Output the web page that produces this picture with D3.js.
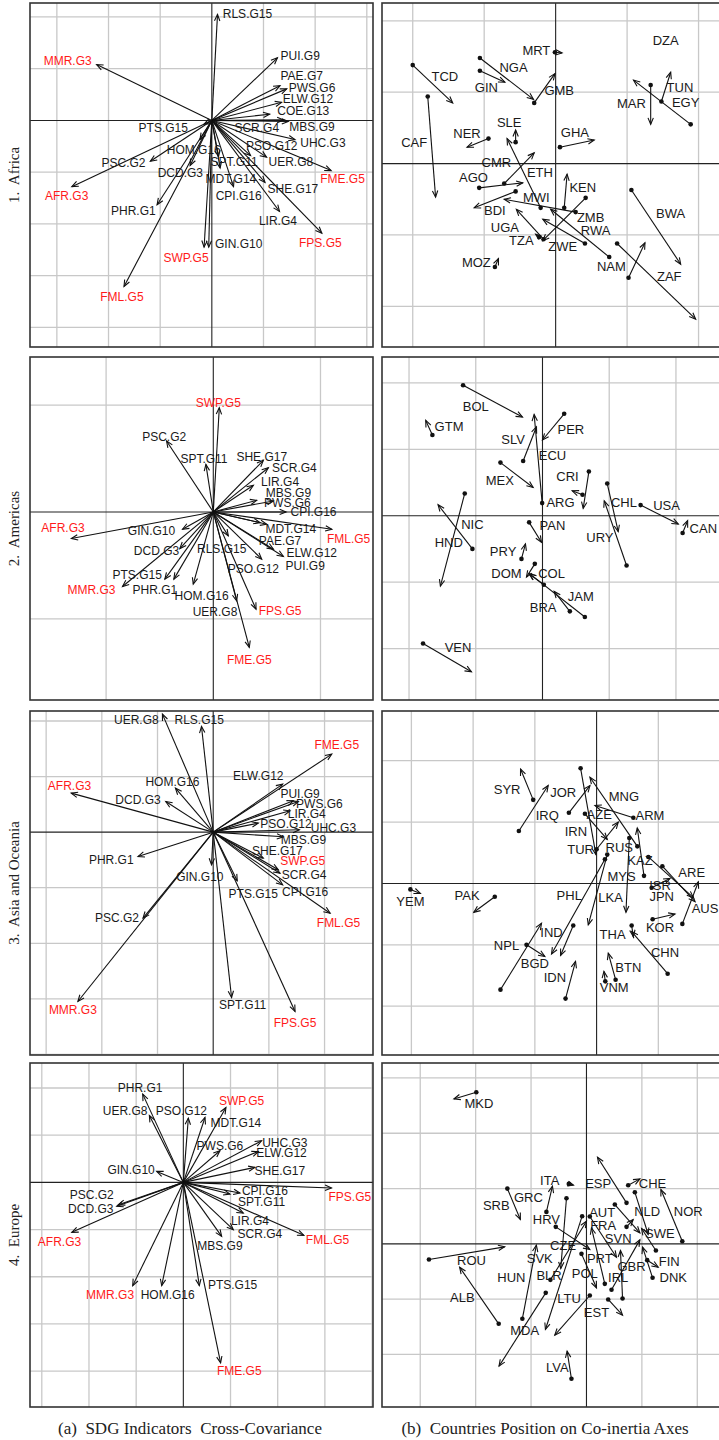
<!DOCTYPE html>
<html><head><meta charset="utf-8">
<script src="https://cdn.jsdelivr.net/npm/d3@7"></script>
<style>body{margin:0;background:#fff}svg{display:block}</style>
</head><body>
<script>
// ================= DATA =================
const regions = ["1.  Africa", "2.  Americas", "3.  Asia and Oceania", "4.  Europe"];
const captions = ["(a)  SDG Indicators  Cross-Covariance", "(b)  Countries Position on Co-inertia Axes"];
const highlighted = ["AFR.G3", "MMR.G3", "SWP.G5", "FML.G5", "FME.G5", "FPS.G5"];

// Indicator cross-covariance arrows: [indicator, x, y, labelX, labelY]
const africaIndicators = [
  ["RLS.G15", 0.11, 2.05, 0.69, 2.05], ["MMR.G3", -2.23, 1.08, -2.79, 1.15],
  ["PUI.G9", 1.27, 1.21, 1.71, 1.24], ["PAE.G7", 1.32, 0.67, 1.74, 0.86],
  ["PWS.G6", 1.45, 0.61, 1.94, 0.63], ["ELW.G12", 1.35, 0.35, 1.86, 0.41],
  ["COE.G13", 1.12, 0.12, 1.77, 0.19], ["MBS.G9", 1.48, -0.02, 1.94, -0.13],
  ["SCR.G4", 1.39, 0.01, 0.87, -0.15], ["UHC.G3", 1.61, -0.37, 2.15, -0.43],
  ["PSO.G12", 0.75, -0.68, 1.16, -0.50], ["UER.G8", 1.06, -0.71, 1.53, -0.81],
  ["FME.G5", 2.31, -0.97, 2.53, -1.14], ["SHE.G17", 1.03, -1.20, 1.57, -1.32],
  ["LIR.G4", 1.31, -1.76, 1.28, -1.95], ["FPS.G5", 2.13, -2.18, 2.10, -2.36],
  ["SPT.G11", 0.13, -0.70, 0.43, -0.81], ["MDT.G14", 0.16, -0.92, 0.37, -1.14],
  ["CPI.G16", 0.42, -1.28, 0.52, -1.46], ["GIN.G10", -0.06, -2.45, 0.52, -2.39],
  ["SWP.G5", -0.15, -2.45, -0.50, -2.66], ["FML.G5", -1.70, -3.21, -1.74, -3.41],
  ["PHR.G1", -1.06, -1.63, -1.52, -1.75], ["DCD.G3", -0.42, -0.87, -0.61, -1.01],
  ["HOM.G16", -0.23, -0.37, -0.35, -0.58], ["PSC.G2", -1.19, -0.79, -1.71, -0.83],
  ["AFR.G3", -2.71, -1.28, -2.81, -1.46], ["PTS.G15", -0.15, -0.07, -0.94, -0.15]
];
const americasIndicators = [
  ["SWP.G5", 0.056, 0.975, 0.047, 1.020], ["PSC.G2", -0.436, 0.664, -0.458, 0.704],
  ["SPT.G11", -0.069, 0.445, -0.087, 0.498], ["SHE.G17", 0.467, 0.483, 0.452, 0.517],
  ["SCR.G4", 0.514, 0.414, 0.757, 0.414], ["LIR.G4", 0.374, 0.249, 0.623, 0.280],
  ["MBS.G9", 0.405, 0.109, 0.701, 0.174], ["PWS.G6", 0.561, 0.103, 0.692, 0.081],
  ["CPI.G16", 0.679, 0.000, 0.935, 0.000], ["MDT.G14", 0.436, -0.100, 0.723, -0.156],
  ["FML.G5", 1.106, -0.162, 1.262, -0.249], ["PAE.G7", 0.498, -0.115, 0.623, -0.271],
  ["ELW.G12", 0.561, -0.349, 0.919, -0.380], ["PUI.G9", 0.654, -0.417, 0.857, -0.505],
  ["PSO.G12", 0.452, -0.442, 0.374, -0.530], ["FPS.G5", 0.399, -0.910, 0.623, -0.931],
  ["FME.G5", 0.336, -1.268, 0.336, -1.383], ["UER.G8", 0.218, -0.832, 0.016, -0.941],
  ["HOM.G16", -0.187, -0.676, -0.109, -0.791], ["RLS.G15", 0.140, -0.224, 0.078, -0.343],
  ["PHR.G1", -0.368, -0.629, -0.545, -0.729], ["PTS.G15", -0.452, -0.629, -0.710, -0.589],
  ["MMR.G3", -0.847, -0.698, -1.137, -0.729], ["DCD.G3", -0.312, -0.343, -0.530, -0.364],
  ["GIN.G10", -0.287, -0.162, -0.576, -0.178], ["AFR.G3", -1.324, -0.249, -1.402, -0.150]
];
const asiaIndicators = [
  ["UER.G8", -0.912, 2.124, -1.380, 2.022], ["RLS.G15", -0.210, 1.902, -0.252, 2.022],
  ["FME.G5", 2.130, 1.404, 2.219, 1.560], ["ELW.G12", 1.248, 0.864, 0.810, 1.002],
  ["HOM.G16", -0.678, 0.792, -0.732, 0.900], ["AFR.G3", -2.550, 0.702, -2.580, 0.822],
  ["DCD.G3", -0.852, 0.552, -1.350, 0.582], ["PUI.G9", 1.440, 0.564, 1.560, 0.684],
  ["PWS.G6", 1.530, 0.552, 1.908, 0.504], ["LIR.G4", 1.380, 0.384, 1.680, 0.324],
  ["PSO.G12", 0.810, 0.162, 1.308, 0.144], ["UHC.G3", 1.548, 0.042, 2.160, 0.072],
  ["MBS.G9", 1.260, -0.084, 1.620, -0.138], ["SHE.G17", 0.900, -0.468, 1.152, -0.336],
  ["SWP.G5", 1.170, -0.678, 1.608, -0.528], ["SCR.G4", 1.200, -0.738, 1.632, -0.768],
  ["CPI.G16", 1.248, -0.948, 1.650, -1.080], ["FML.G5", 2.100, -1.458, 2.250, -1.638],
  ["PHR.G1", -1.350, -0.438, -1.830, -0.498], ["GIN.G10", -0.030, -0.588, -0.240, -0.816],
  ["PTS.G15", 0.432, -0.876, 0.720, -1.116], ["PSC.G2", -1.260, -1.548, -1.728, -1.548],
  ["MMR.G3", -2.430, -3.047, -2.520, -3.197], ["SPT.G11", 0.330, -2.975, 0.528, -3.119],
  ["FPS.G5", 1.470, -3.227, 1.470, -3.437]
];
const europeIndicators = [
  ["PHR.G1", -0.861, 1.870, -0.917, 1.997], ["UER.G8", -0.720, 1.419, -1.235, 1.503],
  ["PSO.G12", 0.106, 1.362, -0.042, 1.503], ["SWP.G5", 0.903, 1.588, 1.235, 1.715],
  ["MDT.G14", 0.459, 1.376, 1.115, 1.256], ["PWS.G6", 0.776, 0.670, 0.776, 0.762],
  ["UHC.G3", 1.658, 0.882, 2.152, 0.833], ["ELW.G12", 1.588, 0.656, 2.082, 0.621],
  ["SHE.G17", 1.517, 0.318, 2.046, 0.233], ["GIN.G10", -0.565, 0.233, -1.108, 0.254],
  ["FPS.G5", 3.140, -0.120, 3.529, -0.318], ["CPI.G16", 1.200, -0.226, 1.729, -0.176],
  ["SPT.G11", 0.988, -0.247, 1.659, -0.416], ["LIR.G4", 1.270, -0.649, 1.411, -0.811],
  ["SCR.G4", 1.059, -1.002, 1.623, -1.094], ["FML.G5", 2.555, -1.122, 3.056, -1.214],
  ["MBS.G9", 0.812, -1.143, 0.776, -1.355], ["PTS.G15", 0.339, -2.188, 1.044, -2.181],
  ["FME.G5", 0.790, -3.825, 1.186, -3.987], ["HOM.G16", -0.459, -2.188, -0.332, -2.392],
  ["MMR.G3", -1.073, -2.188, -1.553, -2.392], ["AFR.G3", -2.364, -1.059, -2.625, -1.263],
  ["DCD.G3", -1.411, -0.508, -1.962, -0.558], ["PSC.G2", -1.376, -0.473, -1.941, -0.275]
];

// Country positions on co-inertia axes: [country, x0, y0, x1, y1, labelX, labelY]
const africaCountries = [
  ["MRT", -0.01, 1.56, 0.09, 1.55, -0.27, 1.58], ["DZA", null, null, null, null, 1.54, 1.72],
  ["NGA", -1.06, 1.48, -0.31, 0.90, -0.59, 1.35], ["GIN", -1.06, 1.30, -0.71, 1.14, -0.97, 1.07],
  ["GMB", -0.30, 0.85, -0.01, 1.26, 0.05, 1.02], ["TCD", -2.00, 1.38, -1.44, 0.85, -1.55, 1.22],
  ["CAF", -1.79, 0.94, -1.68, -0.47, -1.98, 0.30], ["NER", -0.94, 0.35, -1.24, 0.23, -1.24, 0.42],
  ["SLE", -0.56, 0.30, -0.56, 0.47, -0.65, 0.57], ["GHA", 0.06, 0.23, 0.54, 0.33, 0.27, 0.44],
  ["CMR", -0.72, -0.28, -0.30, 0.15, -0.83, 0.01], ["AGO", -1.07, -0.34, -0.46, -0.27, -1.15, -0.19],
  ["ETH", -0.21, -0.62, -0.68, 0.35, -0.22, -0.13], ["MWI", 0.28, -0.68, -0.72, -0.50, -0.27, -0.47],
  ["KEN", 0.12, -0.62, 0.16, -0.15, 0.38, -0.33], ["BDI", -0.56, -0.39, -1.14, -0.62, -0.85, -0.66],
  ["ZMB", 0.42, -0.48, -0.18, -1.08, 0.49, -0.75], ["ZWE", 0.41, -1.12, -0.18, -0.78, 0.10, -1.16],
  ["RWA", 0.75, -1.31, -0.07, -0.64, 0.56, -0.94], ["UGA", -0.17, -1.06, -0.55, -0.64, -0.71, -0.89],
  ["TZA", -0.23, -1.03, -0.28, -0.99, -0.48, -1.08], ["MOZ", -0.85, -1.45, -0.80, -1.33, -1.11, -1.38],
  ["NAM", 1.02, -1.60, 1.25, -1.11, 0.78, -1.44], ["ZAF", 0.86, -1.12, 1.96, -2.18, 1.59, -1.58],
  ["BWA", 1.06, -0.37, 1.75, -1.41, 1.61, -0.70], ["MAR", 1.33, 1.10, 1.33, 0.55, 1.06, 0.84],
  ["TUN", 1.48, 0.87, 1.61, 1.28, 1.74, 1.06], ["EGY", 1.89, 0.55, 1.09, 1.17, 1.82, 0.85]
];
const americasCountries = [
  ["BOL", -1.19, 1.965, -0.30, 1.485, -1.00, 1.65], ["GTM", -1.65, 1.215, -1.75, 1.435, -1.40, 1.35],
  ["PER", 0.325, 1.535, 0.0, 1.14, 0.425, 1.30], ["SLV", -0.29, 0.825, -0.09, 1.34, -0.44, 1.15],
  ["ECU", -0.005, 0.19, -0.125, 1.525, 0.15, 0.91], ["ARG", 0.60, 0.315, 0.445, 0.375, 0.27, 0.20],
  ["MEX", -0.63, 0.80, -0.14, 0.425, -0.64, 0.525], ["CRI", 0.695, 0.665, 0.61, 0.11, 0.375, 0.585],
  ["CHL", 0.97, 0.485, 1.135, -0.24, 1.22, 0.20], ["URY", 1.26, -0.75, 0.925, 0.225, 0.86, -0.325],
  ["USA", 1.47, 0.16, 2.035, -0.125, 1.86, 0.16], ["CAN", 2.10, -0.26, 2.175, -0.075, 2.41, -0.19],
  ["NIC", -1.05, -0.50, -1.565, 0.165, -1.05, -0.125], ["HND", -1.165, 0.335, -1.53, -1.06, -1.405, -0.40],
  ["PAN", -0.20, -0.10, -0.015, -0.40, 0.15, -0.14], ["PRY", -0.315, -0.65, -0.255, -0.425, -0.59, -0.54],
  ["COL", -0.115, -0.725, -0.24, -0.925, 0.135, -0.875], ["DOM", 0.02, -1.04, -0.20, -0.875, -0.54, -0.875],
  ["JAM", 0.635, -1.525, -0.19, -0.875, 0.575, -1.215], ["BRA", 0.41, -1.44, 0.175, -1.14, 0.01, -1.375],
  ["VEN", -1.79, -1.925, -1.065, -2.35, -1.265, -1.985]
];
const asiaCountries = [
  ["YEM", -3.016, -0.097, -2.854, -0.162, -3.016, -0.297], ["PAK", -1.649, -0.216, -1.989, -0.470, -2.097, -0.200],
  ["SYR", -1.027, 1.362, -1.232, 1.865, -1.449, 1.524], ["JOR", -1.259, 0.854, -0.784, 1.595, -0.541, 1.476],
  ["IRQ", -0.449, 1.151, -0.108, 1.595, -0.800, 1.108], ["IRN", -0.259, 1.876, -0.011, 0.470, -0.335, 0.849],
  ["MNG", 0.660, 0.605, -0.108, 1.730, 0.443, 1.422], ["AZE", -0.189, 1.135, 0.173, 0.719, 0.043, 1.119],
  ["ARM", 0.595, 1.070, -0.027, 1.270, 0.865, 1.108], ["TUR", 0.0, 0.557, 0.351, 1.000, -0.259, 0.557],
  ["RUS", 0.173, 0.470, -0.135, -0.676, 0.368, 0.578], ["PHL", 0.135, 0.395, -0.730, -1.151, -0.443, -0.189],
  ["LKA", null, null, null, null, 0.227, -0.232], ["MYS", 0.530, 0.741, 0.476, -0.470, 0.405, 0.108],
  ["KAZ", 0.768, 0.124, 0.659, 0.903, 0.703, 0.378], ["ARE", 0.838, 0.432, 1.568, -0.232, 1.541, 0.173],
  ["AUS", 1.389, -0.659, 1.649, 0.027, 1.757, -0.416], ["ISR", 1.065, 0.281, 1.595, -0.297, 1.027, -0.027],
  ["JPN", 0.892, -0.070, 1.189, 0.081, 1.054, -0.216], ["KOR", 0.908, -0.584, 1.270, -0.497, 1.027, -0.719],
  ["THA", 0.568, -0.686, 0.595, -0.865, 0.259, -0.827], ["CHN", 1.151, -1.470, 0.568, -0.784, 1.108, -1.119],
  ["BTN", 0.308, -1.568, 0.189, -1.135, 0.514, -1.368], ["VNM", 0.141, -1.595, 0.119, -1.432, 0.286, -1.692],
  ["IDN", -0.503, -1.876, -0.341, -1.270, -0.676, -1.530], ["IND", -1.557, -1.730, -0.892, -0.649, -0.730, -0.800],
  ["NPL", -1.135, -1.000, -0.838, -1.189, -1.459, -1.011], ["BGD", -0.378, -0.686, -0.584, -1.173, -1.000, -1.311]
];
const europeCountries = [
  ["MKD", -1.988, 2.741, -2.392, 2.620, -1.940, 2.536], ["ITA", -0.319, 1.084, -0.235, 1.060, -0.663, 1.145],
  ["ESP", 0.723, 0.741, 0.199, 1.566, 0.211, 1.084], ["CHE", 0.753, 1.060, 0.964, 1.175, 1.193, 1.084],
  ["NLD", 0.873, 0.934, 1.114, 0.169, 1.096, 0.590], ["NOR", 1.729, 0.048, 1.343, 0.982, 1.837, 0.578],
  ["SWE", 1.253, -0.120, 0.994, 0.277, 1.325, 0.181], ["FIN", 1.096, -0.295, 1.295, -0.422, 1.494, -0.325],
  ["DNK", 1.193, -0.614, 1.012, -0.060, 1.566, -0.614], ["AUT", 0.512, 0.711, 0.964, 0.199, 0.283, 0.560],
  ["FRA", 0.060, 0.494, 0.542, -0.241, 0.301, 0.331], ["SVN", 0.723, 0.307, 0.843, 0.440, 0.572, 0.090],
  ["GBR", 0.452, -0.831, 0.964, 0.072, 0.813, -0.404], ["IRL", 0.651, -0.988, 0.614, -0.120, 0.572, -0.614],
  ["PRT", 0.331, -0.723, 0.090, 0.289, 0.241, -0.271], ["POL", -0.090, -0.181, 0.181, -0.795, -0.030, -0.542],
  ["EST", 0.392, -1.006, 0.651, -1.289, 0.181, -1.247], ["LTU", 0.060, -0.934, -0.572, -1.651, -0.313, -0.988],
  ["LVA", -0.271, -2.440, -0.349, -1.940, -0.524, -2.241], ["MDA", -0.735, -0.886, -1.578, -2.211, -1.114, -1.566],
  ["HUN", -1.157, -1.355, -0.904, -0.024, -1.355, -0.614], ["ALB", -1.584, -1.446, -2.289, -0.422, -2.241, -0.976],
  ["ROU", -2.843, -0.283, -1.476, -0.054, -2.075, -0.295], ["SRB", -1.428, 0.999, -1.193, 0.440, -1.627, 0.699],
  ["GRC", -0.723, 0.578, -0.614, 1.042, -1.048, 0.831], ["HRV", -0.554, 0.307, 0.060, -0.102, -0.723, 0.440],
  ["CZE", -0.361, 0.825, -0.464, -0.446, -0.422, -0.024], ["BLR", -0.651, -0.651, 0.0, 0.410, -0.675, -0.566],
  ["SVK", -0.078, 0.500, -0.741, -1.548, -0.843, -0.271]
];

// Axis limits (grid step = 1 unit)
const africaIndX = [-3.52, 3.12], africaIndY = [-4.38, 2.27];
const americasIndX = [-1.71, 1.49], americasIndY = [-1.76, 1.45];
const asiaIndX = [-3.29, 2.87], asiaIndY = [-4.01, 2.18];
const europeIndX = [-3.25, 4.02], europeIndY = [-4.76, 2.53];
const africaCtyX = [-2.43, 2.37], africaCtyY = [-2.57, 2.25];
const americasCtyX = [-2.405, 2.735], americasCtyY = [-2.775, 2.39];
const asiaCtyX = [-3.476, 2.08], asiaCtyY = [-2.795, 2.81];
const europeCtyX = [-3.69, 2.50], europeCtyY = [-2.95, 3.27];

// ================= DRAWING =================
const W = 719, H = 1440;
const svg = d3.select("body").append("svg").attr("width", W).attr("height", H)
  .style("font-family", "'Liberation Sans', Arial, sans-serif");

const colX = [[30, 373], [382, 725]];
const rowY = [[3, 347], [357, 700], [711, 1055], [1063, 1407]];

const rows = [
  {ind: africaIndicators, ix: africaIndX, iy: africaIndY, cty: africaCountries, cx: africaCtyX, cy: africaCtyY},
  {ind: americasIndicators, ix: americasIndX, iy: americasIndY, cty: americasCountries, cx: americasCtyX, cy: americasCtyY},
  {ind: asiaIndicators, ix: asiaIndX, iy: asiaIndY, cty: asiaCountries, cx: asiaCtyX, cy: asiaCtyY},
  {ind: europeIndicators, ix: europeIndX, iy: europeIndY, cty: europeCountries, cx: europeCtyX, cy: europeCtyY}
];

let clipN = 0;
function frame(xr, yr, xd, yd) {
  const x = d3.scaleLinear().domain(xd).range(xr);
  const y = d3.scaleLinear().domain(yd).range([yr[1], yr[0]]);
  const id = "clip" + (clipN++);
  svg.append("clipPath").attr("id", id).append("rect")
    .attr("x", xr[0]).attr("y", yr[0]).attr("width", xr[1] - xr[0]).attr("height", yr[1] - yr[0]);
  const g = svg.append("g").attr("clip-path", `url(#${id})`);
  const gx = d3.range(Math.ceil(xd[0]), Math.floor(xd[1]) + 1);
  const gy = d3.range(Math.ceil(yd[0]), Math.floor(yd[1]) + 1);
  g.selectAll("line.gv").data(gx.filter(v => v !== 0)).join("line")
    .attr("x1", d => x(d)).attr("x2", d => x(d)).attr("y1", yr[0]).attr("y2", yr[1])
    .attr("stroke", "#c8c8c8").attr("stroke-width", 1.3);
  g.selectAll("line.gh").data(gy.filter(v => v !== 0)).join("line")
    .attr("y1", d => y(d)).attr("y2", d => y(d)).attr("x1", xr[0]).attr("x2", xr[1])
    .attr("stroke", "#c8c8c8").attr("stroke-width", 1.3);
  g.append("line").attr("x1", x(0)).attr("x2", x(0)).attr("y1", yr[0]).attr("y2", yr[1])
    .attr("stroke", "#222").attr("stroke-width", 1.1);
  g.append("line").attr("y1", y(0)).attr("y2", y(0)).attr("x1", xr[0]).attr("x2", xr[1])
    .attr("stroke", "#222").attr("stroke-width", 1.1);
  return {g, x, y, xr, yr};
}
function border(f) {
  svg.append("rect").attr("x", f.xr[0]).attr("y", f.yr[0])
    .attr("width", f.xr[1] - f.xr[0]).attr("height", f.yr[1] - f.yr[0])
    .attr("fill", "none").attr("stroke", "#333").attr("stroke-width", 1.6);
}
function arrow(g, x0, y0, x1, y1) {
  g.append("line").attr("x1", x0).attr("y1", y0).attr("x2", x1).attr("y2", y1)
    .attr("stroke", "#111").attr("stroke-width", 1.1);
  const ang = Math.atan2(y1 - y0, x1 - x0);
  const len = Math.min(7, Math.hypot(x1 - x0, y1 - y0) * 0.9 + 2), a = Math.PI / 8;
  g.append("path")
    .attr("d", `M${x1 - len * Math.cos(ang - a)},${y1 - len * Math.sin(ang - a)}L${x1},${y1}L${x1 - len * Math.cos(ang + a)},${y1 - len * Math.sin(ang + a)}`)
    .attr("fill", "none").attr("stroke", "#111").attr("stroke-width", 1.1);
}

rows.forEach((r, i) => {
  // (a) indicators
  const fa = frame(colX[0], rowY[i], r.ix, r.iy);
  r.ind.forEach(d => arrow(fa.g, fa.x(0), fa.y(0), fa.x(d[1]), fa.y(d[2])));
  r.ind.forEach(d => {
    svg.append("text").attr("x", fa.x(d[3])).attr("y", fa.y(d[4]))
      .attr("text-anchor", "middle").attr("dominant-baseline", "central")
      .attr("font-size", 12).attr("fill", highlighted.includes(d[0]) ? "#ff1a1a" : "#1a1a1a")
      .text(d[0]);
  });
  border(fa);
  // (b) countries
  const fb = frame(colX[1], rowY[i], r.cx, r.cy);
  r.cty.forEach(d => {
    if (d[1] === null) return;
    arrow(fb.g, fb.x(d[1]), fb.y(d[2]), fb.x(d[3]), fb.y(d[4]));
    fb.g.append("circle").attr("cx", fb.x(d[1])).attr("cy", fb.y(d[2])).attr("r", 2.3).attr("fill", "#111");
  });
  r.cty.forEach(d => {
    fb.g.append("text").attr("x", fb.x(d[5])).attr("y", fb.y(d[6]))
      .attr("text-anchor", "middle").attr("dominant-baseline", "central")
      .attr("font-size", 13).attr("fill", "#1a1a1a").text(d[0]);
  });
  border(fb);
  // row label
  const cy = (rowY[i][0] + rowY[i][1]) / 2;
  svg.append("text").attr("transform", `translate(19,${cy}) rotate(-90)`)
    .attr("text-anchor", "middle").style("white-space", "pre")
    .attr("font-family", "'Liberation Serif', 'Times New Roman', serif").attr("font-size", 15)
    .attr("fill", "#222").text(regions[i]);
});

[190, 545].forEach((cx, i) => {
  svg.append("text").attr("x", cx).attr("y", 1434).attr("text-anchor", "middle")
    .style("white-space", "pre")
    .attr("font-family", "'Liberation Serif', 'Times New Roman', serif").attr("font-size", 17)
    .attr("fill", "#222").text(captions[i]);
});
</script>
</body></html>
